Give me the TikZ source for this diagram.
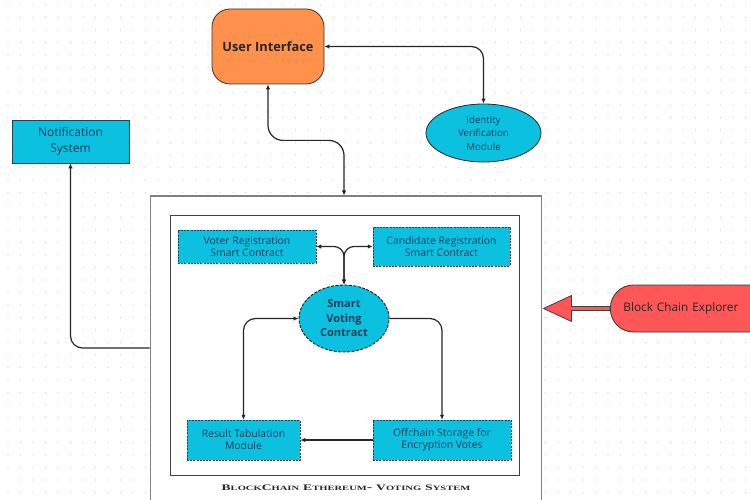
\documentclass[tikz,border=0pt]{standalone}
\usepackage{fontspec}
\setmainfont{Open Sans}
\usetikzlibrary{arrows.meta,shapes.geometric,calc}
\definecolor{cyanbox}{HTML}{0CC0DF}
\definecolor{orangebox}{HTML}{FF914D}
\definecolor{redbox}{HTML}{FF5757}
\definecolor{txtdark}{HTML}{1B3D5C}
\definecolor{borderdark}{HTML}{1F4650}
\definecolor{dotgray}{HTML}{D0D0D0}
\newfontfamily\titlefont[FakeStretch=1.6]{Liberation Serif}
\newcommand\tsc[2]{{\fontsize{8.5}{9}\selectfont #1}{\fontsize{6.6}{7}\selectfont #2}}
\tikzset{
  cbox/.style={draw=borderdark, fill=cyanbox, dashed, dash pattern=on 2pt off 1.2pt, line width=0.5pt, text=txtdark, align=center, inner sep=1pt, font=\fontsize{10.4}{12}\selectfont},
  conn/.style={draw=black!85, line width=1.2pt, rounded corners=12pt},
  tip/.style={-{Latex[length=5pt,width=4.5pt]}},
  ttip/.style={{Latex[length=5pt,width=4.5pt]}-{Latex[length=5pt,width=4.5pt]}},
}
\begin{document}
\begin{tikzpicture}[x=1pt,y=-1pt]
\useasboundingbox (0,0) rectangle (750,500);
\fill[white] (0,0) rectangle (750,500);
\clip (0,0) rectangle (750,500);
% dot grid
\foreach \i in {0,...,59}{
  \foreach \j in {0,...,39}{
    \fill[dotgray] (8+\i*12.5,5+\j*12.5) circle (0.7pt);
  }
}
% containers
\node[draw=black!50, fill=white, line width=1pt, minimum width=391pt, minimum height=304pt, inner sep=0pt] (outer) at (345.5,348) {};
\node[draw=black!75, fill=white, line width=0.8pt, minimum width=349pt, minimum height=260pt, inner sep=0pt] (inner) at (344.5,345) {};
\node[font=\titlefont\bfseries, text=black!85] (title) at (346,488) {\tsc{B}{LOCK}\tsc{C}{HAIN} \tsc{E}{THEREUM}- \tsc{V}{OTING} \tsc{S}{YSTEM}};

% top nodes
\node[draw=black!80, fill=orangebox, rounded corners=18pt, line width=0.8pt, minimum width=112pt, minimum height=75pt, font=\bfseries\fontsize{12.8}{14}\selectfont, text=black!85] (ui) at (268,46.5) {User Interface};
\node[ellipse, draw=black!85, fill=cyanbox, line width=0.8pt, minimum width=115pt, minimum height=58pt, inner sep=0pt, align=center, text=txtdark, font=\fontsize{9.7}{13.5}\selectfont] (idv) at (483.5,133) {Identity\\Verification\\Module};
\node[draw=borderdark, fill=cyanbox, line width=0.8pt, minimum width=117pt, minimum height=43pt, align=center, text=txtdark, font=\fontsize{12}{16}\selectfont] (notif) at (70.5,141.5) {Notification\\System};
\node[draw=black!80, fill=redbox, rounded corners=23pt, line width=0.8pt, text width=140pt, align=left, minimum height=47pt, text=black!85, font=\fontsize{11.8}{13}\selectfont, anchor=west, inner xsep=13pt, inner ysep=0pt] (expl) at (610,308.5) {Block Chain Explorer};

% inner nodes
\node[cbox, minimum width=138pt, minimum height=33pt] (voter) at (247,246.5) {Voter Registration\\Smart Contract};
\node[cbox, minimum width=137pt, minimum height=39pt] (cand) at (441.5,246.5) {Candidate Registration\\Smart Contract};
\node[ellipse, draw=black!90, fill=cyanbox, dashed, dash pattern=on 3pt off 1.5pt, line width=0.9pt, minimum width=90pt, minimum height=67pt, inner sep=0pt, align=center, text=txtdark, font=\bfseries\fontsize{11}{14.5}\selectfont] (svc) at (344,318.5) {Smart\\Voting\\Contract};
\node[cbox, minimum width=113pt, minimum height=40pt] (res) at (243.5,440) {Result Tabulation\\Module};
\node[cbox, minimum width=138pt, minimum height=40pt] (off) at (442,440) {Offchain Storage for\\Encryption Votes};

% connectors
\draw[conn, ttip] (idv.north) |- (ui.east);
\draw[conn, ttip, rounded corners=15pt] (ui.south) -- ++(0,56) -| (outer.north -| svc.north);
\draw[conn, tip] (outer.west |- 0,348) -| (notif.south);
\draw[conn, rounded corners=10pt, {Latex[length=5pt,width=4.5pt]}-{Latex[length=5pt,width=4.5pt]}] (voter.east) -| (svc.north);
\draw[conn, rounded corners=10pt, {Latex[length=5pt,width=4.5pt]}-{Latex[length=5pt,width=4.5pt]}] (cand.west) -| (svc.north);
\draw[conn, ttip] (res.north) |- (svc.west);
\draw[conn, tip] (svc.east) -| (off.north);
\draw[conn, tip] (off.west) -- (res.east);

% explorer arrow
\coordinate (et) at ($(outer.east |- expl.west)+(2,0)$);
\draw[draw=black!75, fill=redbox, line width=0.8pt, line join=miter]
  (et) -- ++(28,-13) -- ++(0,11) -- (expl.west |- 0,306.5) -- (expl.west |- 0,310.5) -- ($(et)+(28,2)$) -- ++(0,11) -- cycle;
\end{tikzpicture}
\end{document}
